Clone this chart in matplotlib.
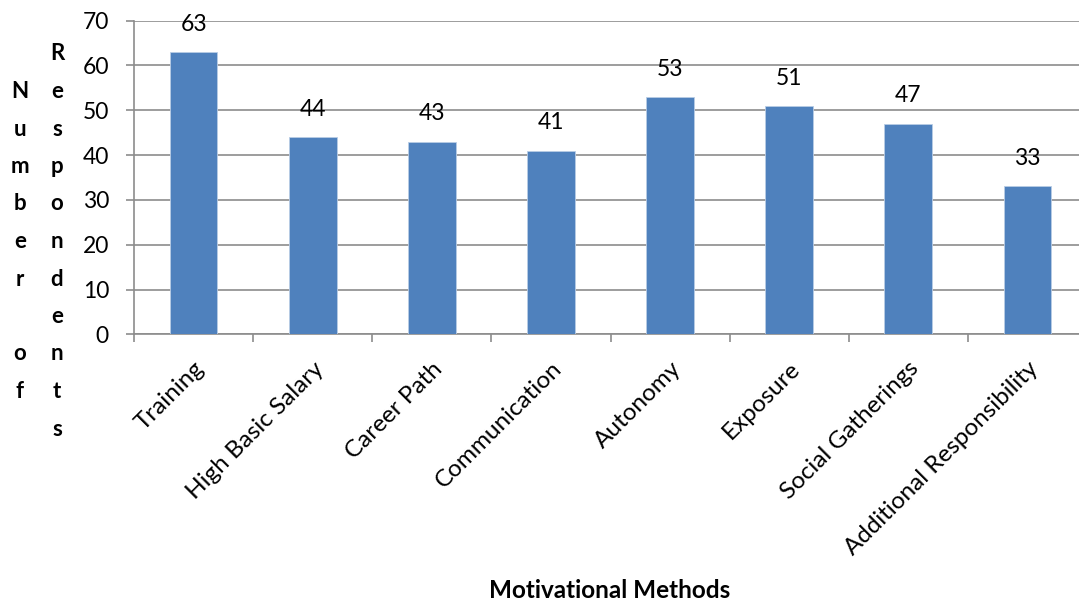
import matplotlib
matplotlib.use("Agg")
import matplotlib.pyplot as plt
import numpy as np

categories = ["Training", "High Basic Salary", "Career Path", "Communication",
              "Autonomy", "Exposure", "Social Gatherings", "Additional Responsibility"]
values = [63, 44, 43, 41, 53, 51, 47, 33]
y_ticks = [0, 10, 20, 30, 40, 50, 60, 70]
x_title = "Motivational Methods"
y_title_cols = ["Number of", "Respondents"]

plt.rcParams["font.family"] = ["Lato", "DejaVu Sans"]

W, H = 1079, 603
fig = plt.figure(figsize=(W / 100, H / 100), dpi=100)
ax = fig.add_axes([134 / W, 1 - 334.3 / H, (1087 - 134) / W, (334.3 - 20.7) / H])

grid_col = "#8c8c8c"
x = np.arange(len(categories))
ax.bar(x, values, width=0.4, color="#4F81BD", edgecolor="#b9cde5", linewidth=0.6, zorder=3)

ax.set_xlim(-0.5, len(categories) - 0.5)
ax.set_ylim(0, 70)
ax.set_yticks(y_ticks)
ax.yaxis.grid(True, color=grid_col, linewidth=1.2, zorder=0)
ax.set_axisbelow(True)

for s in ["top", "right"]:
    ax.spines[s].set_visible(False)
for s in ["left", "bottom"]:
    ax.spines[s].set_color(grid_col)
    ax.spines[s].set_linewidth(1.2)

ax.tick_params(axis="y", direction="out", length=6, width=1.2, color=grid_col,
               labelsize=16.5, pad=12)
ax.set_xticks(x)
ax.set_xticks(np.arange(len(categories) + 1) - 0.5, minor=True)
ax.tick_params(axis="x", which="major", length=0, pad=17)
ax.tick_params(axis="x", which="minor", direction="out", length=6, width=1.2, color=grid_col)
ax.set_xticklabels(categories, rotation=45, ha="right", rotation_mode="anchor",
                   fontsize=17.5)

for xi, v in zip(x, values):
    ax.annotate(str(v), (xi, v), xytext=(0, 20), textcoords="offset points",
                ha="center", va="center", fontsize=16.5)

fig.text(610 / W, 1 - 590 / H, x_title, ha="center", va="center",
         fontsize=17.5, fontweight="bold")

# stacked vertical axis title, one letter per row, each column centred
row = 37.5
centre = 241.5
for cx, word in zip([20, 57], y_title_cols):
    n = len(word)
    for i, ch in enumerate(word):
        yy = centre + (i - (n - 1) / 2) * row
        if ch.strip():
            fig.text(cx / W, 1 - yy / H, ch, ha="center", va="center",
                     fontsize=16, fontweight="bold")

fig.savefig("out.png", dpi=100)
